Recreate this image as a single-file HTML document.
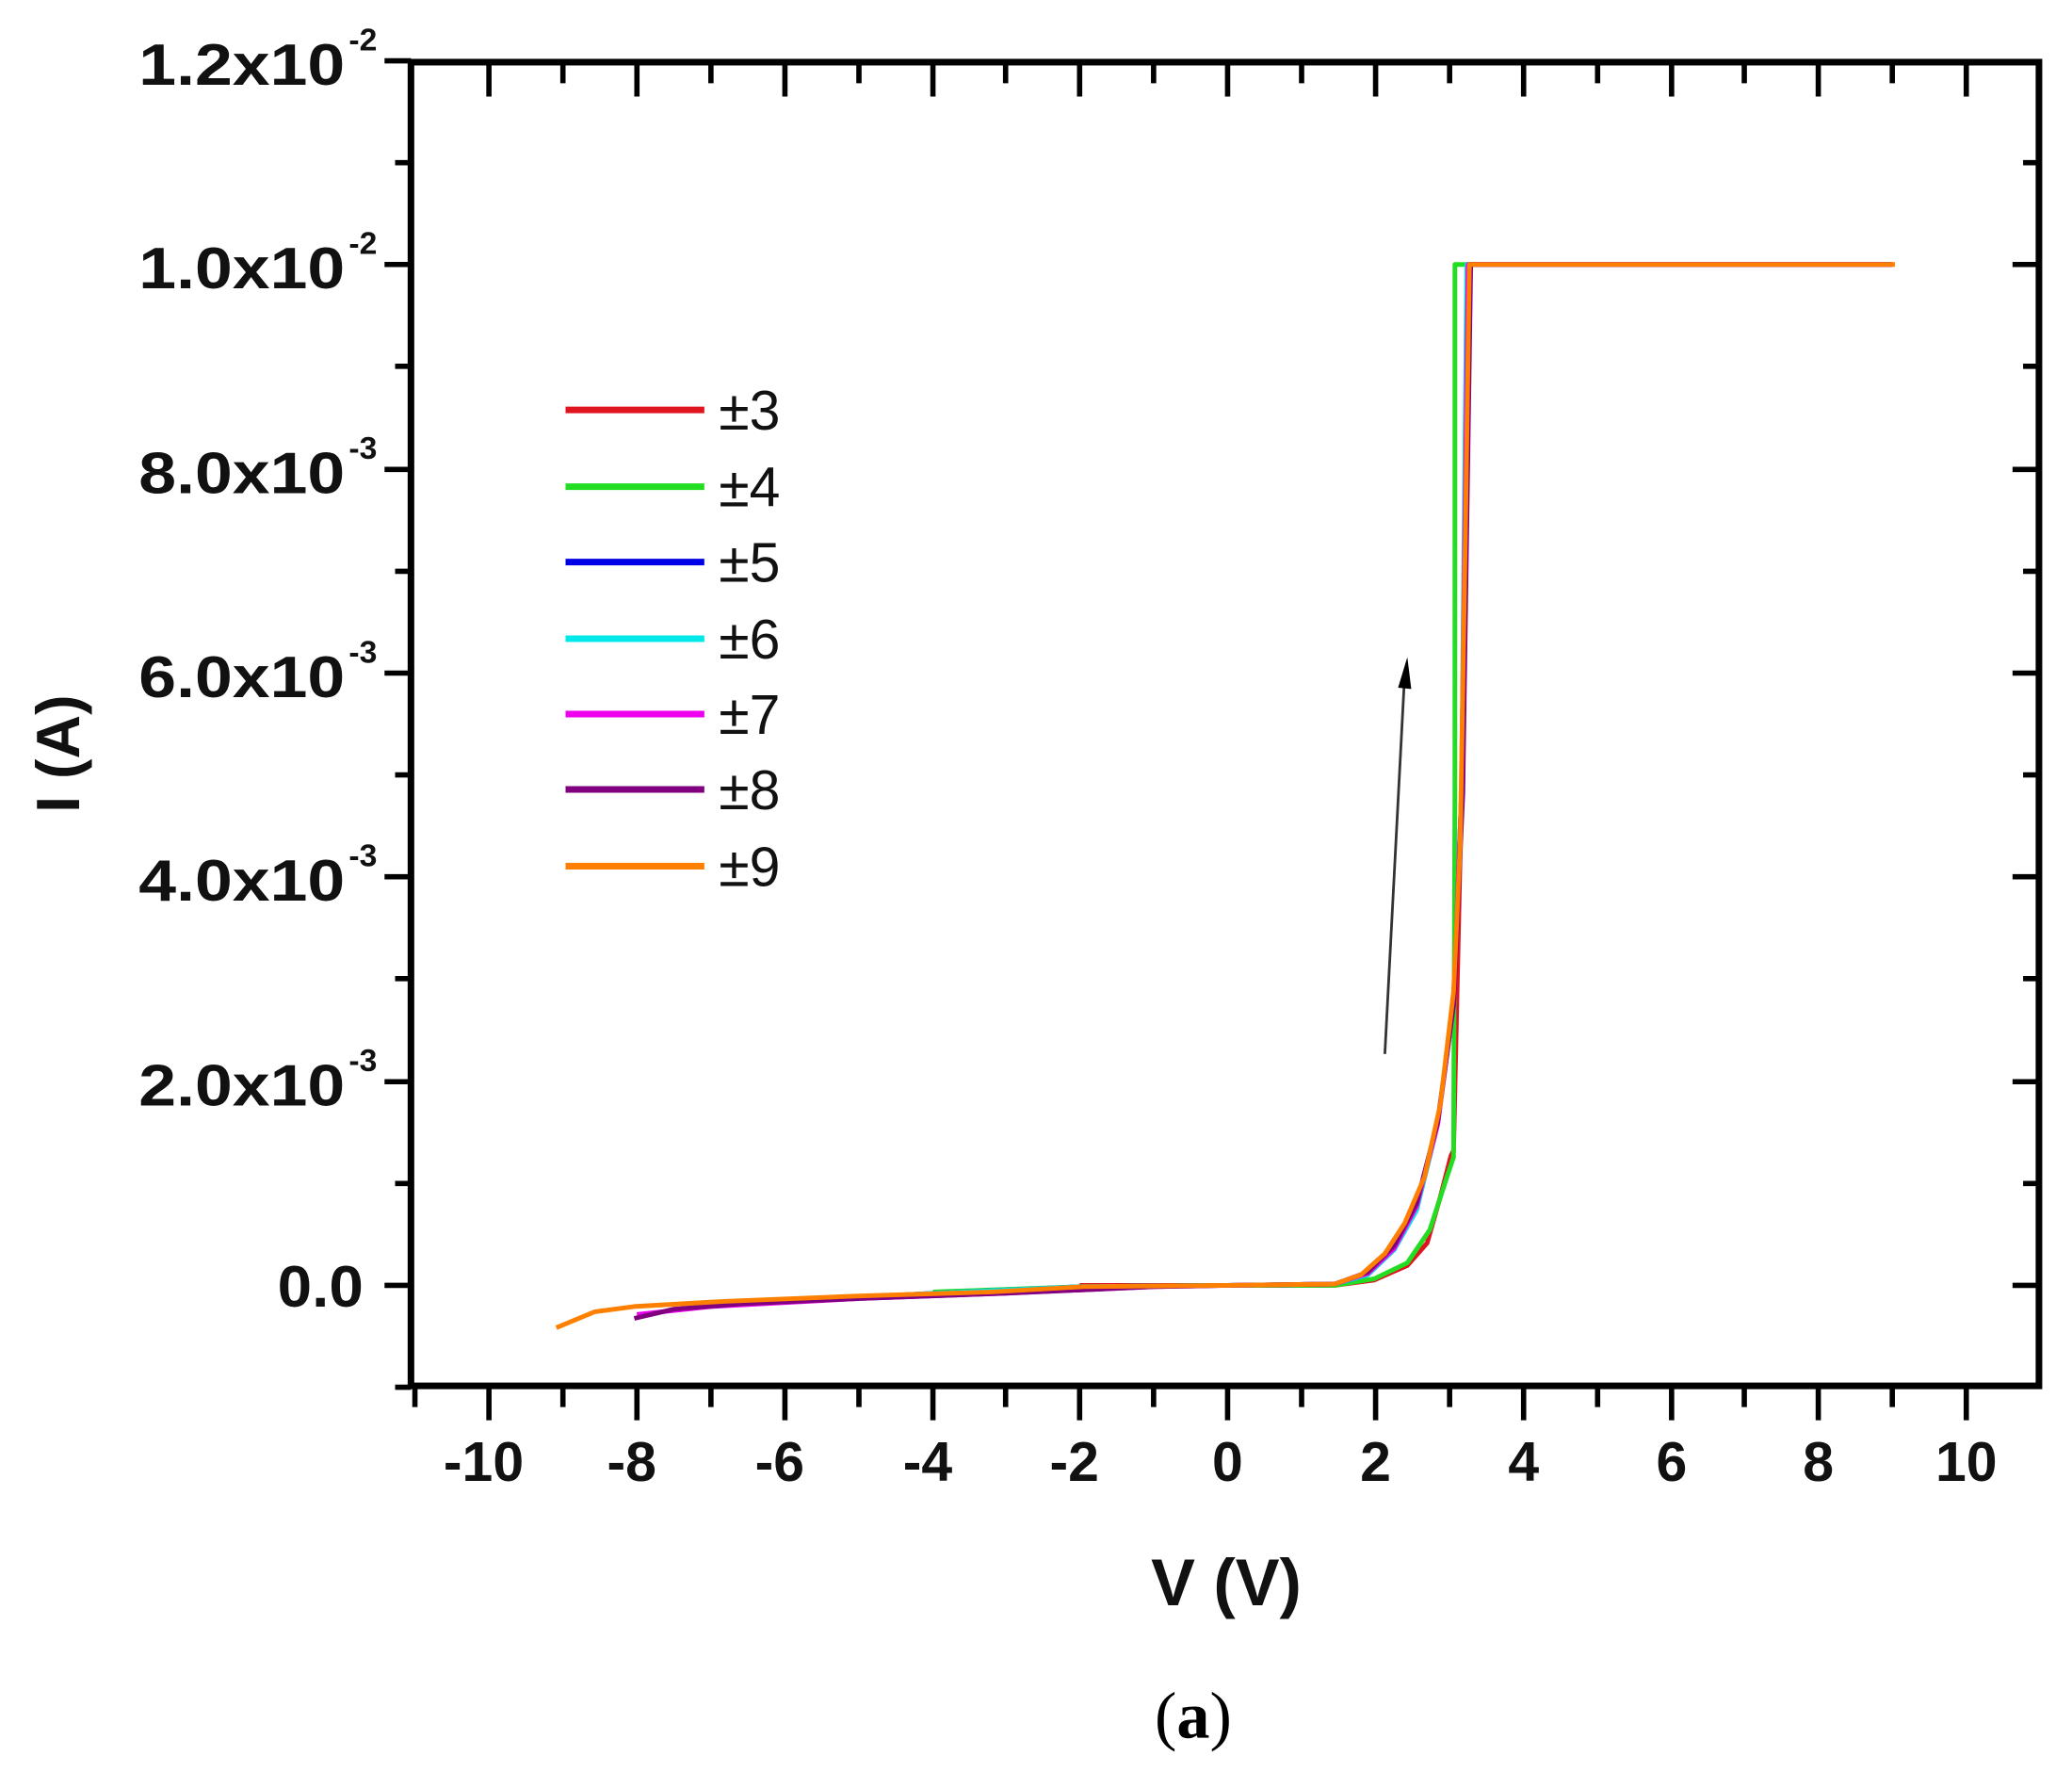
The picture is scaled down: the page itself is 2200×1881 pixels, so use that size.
<!DOCTYPE html>
<html><head><meta charset="utf-8"><style>html,body{margin:0;padding:0;background:#fff}svg{display:block}</style></head>
<body>
<svg width="2200" height="1881" viewBox="0 0 1568 1340" preserveAspectRatio="none" xmlns="http://www.w3.org/2000/svg">
<rect width="1568" height="1340" fill="#fff"/>
<g stroke="#000" stroke-width="5" fill="none">
<rect x="311" y="47" width="1232" height="1001"/>
</g>
<g stroke="#000" stroke-width="4">
<path d="M370 1048v26M482 1048v26M594 1048v26M706 1048v26M817 1048v26M929 1048v26M1041 1048v26M1153 1048v26M1265 1048v26M1376 1048v26M1488 1048v26"/>
<path d="M426 1048v16M538 1048v16M650 1048v16M761 1048v16M873 1048v16M985 1048v16M1097 1048v16M1209 1048v16M1320 1048v16M1432 1048v16M314 1048v16"/>
<path d="M370 47v26M482 47v26M594 47v26M706 47v26M817 47v26M929 47v26M1041 47v26M1153 47v26M1265 47v26M1376 47v26M1488 47v26"/>
<path d="M426 47v16M538 47v16M650 47v16M761 47v16M873 47v16M985 47v16M1097 47v16M1209 47v16M1320 47v16M1432 47v16"/>
<path d="M311 46h-20M311 200h-20M311 355h-20M311 509h-20M311 663h-20M311 818h-20M311 972h-20"/>
<path d="M311 123h-12M311 277h-12M311 432h-12M311 586h-12M311 740h-12M311 895h-12M311 1049h-12"/>
<path d="M1543 200h-20M1543 355h-20M1543 509h-20M1543 663h-20M1543 818h-20M1543 972h-20"/>
<path d="M1543 123h-12M1543 277h-12M1543 432h-12M1543 586h-12M1543 740h-12M1543 895h-12"/>
</g>
<g font-family="Liberation Sans, sans-serif" font-weight="bold" font-size="44" fill="#111">
<text x="105" y="64" textLength="156" lengthAdjust="spacingAndGlyphs">1.2x10</text><text x="264" y="38" font-size="24">-2</text>
<text x="105" y="218" textLength="156" lengthAdjust="spacingAndGlyphs">1.0x10</text><text x="264" y="192" font-size="24">-2</text>
<text x="105" y="373" textLength="156" lengthAdjust="spacingAndGlyphs">8.0x10</text><text x="264" y="347" font-size="24">-3</text>
<text x="105" y="527" textLength="156" lengthAdjust="spacingAndGlyphs">6.0x10</text><text x="264" y="501" font-size="24">-3</text>
<text x="105" y="681" textLength="156" lengthAdjust="spacingAndGlyphs">4.0x10</text><text x="264" y="655" font-size="24">-3</text>
<text x="105" y="836" textLength="156" lengthAdjust="spacingAndGlyphs">2.0x10</text><text x="264" y="810" font-size="24">-3</text>
<text x="210" y="988" textLength="65" lengthAdjust="spacingAndGlyphs">0.0</text>
</g>
<g font-family="Liberation Sans, sans-serif" font-weight="bold" font-size="42" fill="#111" text-anchor="middle">
<text x="366" y="1120">-10</text><text x="478" y="1120">-8</text><text x="590" y="1120">-6</text><text x="702" y="1120">-4</text><text x="813" y="1120">-2</text>
<text x="929" y="1120">0</text><text x="1041" y="1120">2</text><text x="1153" y="1120">4</text><text x="1265" y="1120">6</text><text x="1376" y="1120">8</text><text x="1488" y="1120">10</text>
<text x="928" y="1214" font-size="50">V (V)</text>
<text transform="translate(60,570) rotate(-90)" font-size="46">I (A)</text>
</g>
<text x="903" y="1314" font-family="Liberation Serif, serif" font-size="50" text-anchor="middle">(<tspan font-weight="bold">a</tspan>)</text>
<g stroke-width="5">
<path d="M428 310h105" stroke="#e0141e"/><path d="M428 368h105" stroke="#22dd22"/><path d="M428 425h105" stroke="#0000e6"/>
<path d="M428 483h105" stroke="#00e8e8"/><path d="M428 540h105" stroke="#ee00ee"/><path d="M428 597h105" stroke="#800080"/><path d="M428 655h105" stroke="#ff8000"/>
</g>
<g font-family="Liberation Sans, sans-serif" font-size="42" fill="#111">
<text x="544" y="325">±3</text><text x="544" y="383">±4</text><text x="544" y="440">±5</text><text x="544" y="498">±6</text><text x="544" y="555">±7</text><text x="544" y="612">±8</text><text x="544" y="670">±9</text>
</g>
<path d="M1048 797L1063 510" stroke="#333" stroke-width="2" fill="none"/>
<path d="M1058 520L1065 497L1068 521Z" fill="#000"/>
<g fill="none" stroke-width="3.5" stroke-linejoin="round">
<path stroke="#e0141e" d="M817 972L929 972L1010 972L1040 968L1065 957L1080 940L1090 905L1098 874L1100 870L1106 600L1112 200L1432 200"/>
<path stroke="#22dd22" d="M706 977L817 973L929 972L1010 972L1040 967L1065 955L1082 930L1095 890L1100 875L1101 600L1101 200L1432 200"/>
<path stroke="#0000e6" d="M594 984L706 978L817 973L929 972L1010 971L1035 964L1055 945L1072 915L1088 850L1100 760L1106 600L1112 200L1432 200"/>
<path stroke="#00e8e8" d="M538 988L594 984L706 978L817 973L929 972L1010 971L1035 964L1055 945L1072 915L1088 850L1100 760L1106 600L1110 200L1432 200"/>
<path stroke="#ee00ee" d="M482 994L538 988L650 982L761 978L873 973L929 972L1010 971L1035 963L1055 944L1072 912L1088 850L1100 760L1106 600L1111 200L1432 200"/>
<path stroke="#800080" d="M480 997L510 990L560 986L650 982L761 978L873 973L929 972L1010 971L1035 962L1055 942L1072 910L1088 848L1100 760L1107 600L1113 200L1432 200"/>
<path stroke="#ff8000" d="M421 1004L450 992L480 988L550 984L650 980L750 977L820 973L929 972L1010 971L1030 964L1048 948L1063 925L1078 890L1090 835L1100 750L1105 640L1109 400L1112 200L1434 200"/>
</g>
</svg>
</body></html>
